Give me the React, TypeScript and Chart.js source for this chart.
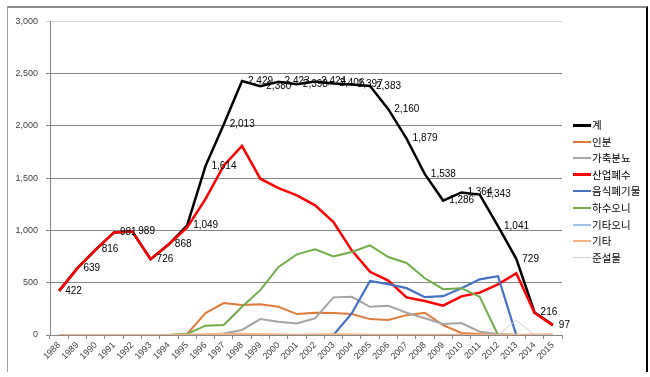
import React, { useEffect, useRef } from 'react';
import { Chart, registerables } from 'chart.js';

Chart.register(...registerables);

// ---- data ----
const years = ['1988', '1989', '1990', '1991', '1992', '1993', '1994', '1995', '1996', '1997', '1998', '1999', '2000', '2001', '2002', '2003', '2004', '2005', '2006', '2007', '2008', '2009', '2010', '2011', '2012', '2013', '2014', '2015'];
const total = [422, 639, 816, 981, 989, 726, 868, 1049, 1614, 2013, 2429, 2380, 2423, 2398, 2424, 2406, 2397, 2383, 2160, 1879, 1538, 1286, 1364, 1343, 1041, 729, 216, 97];
const humanWaste = [0, 0, 0, 0, 0, 0, 0, 10, 209, 305, 286, 295, 270, 200, 213, 210, 200, 152, 143, 190, 213, 95, 20, 10, 5, 0, 0, 0];
const livestock = [0, 0, 0, 0, 0, 0, 0, 0, 0, 15, 48, 152, 127, 111, 160, 360, 365, 270, 279, 213, 160, 105, 114, 32, 10, 0, 0, 0];
const industrial = [422, 639, 816, 981, 989, 726, 868, 1030, 1300, 1620, 1810, 1495, 1405, 1335, 1240, 1080, 810, 605, 520, 360, 325, 280, 370, 405, 485, 590, 212, 92];
const foodWaste = [0, 0, 0, 0, 0, 0, 0, 0, 0, 0, 0, 0, 0, 0, 0, 0, 206, 517, 486, 448, 362, 371, 448, 533, 562, 0, 0, 0];
const sewageSludge = [0, 0, 0, 0, 0, 0, 0, 10, 89, 95, 270, 429, 651, 771, 819, 752, 794, 857, 746, 689, 543, 438, 448, 365, 0, 0, 0, 0];
const otherSludge = [0, 0, 0, 0, 0, 0, 0, 0, 0, 6, 3, 0, 0, 0, 0, 0, 0, 0, 0, 0, 0, 0, 0, 0, 0, 0, 0, 0];
const others = [0, 0, 0, 0, 0, 0, 0, 2, 6, 10, 12, 8, 4, 3, 5, 6, 4, 3, 3, 3, 3, 2, 2, 2, 2, 2, 5, 6];
const dredged = [null, null, null, null, null, null, null, null, null, null, null, null, null, null, null, null, null, null, null, null, null, null, null, null, 0, 140, 0, 0];

const seriesNames = ['계', '인분', '가축분뇨', '산업폐수', '음식폐기물', '하수오니', '기타오니', '기타', '준설물'];
const seriesData = [total, humanWaste, livestock, industrial, foodWaste, sewageSludge, otherSludge, others, dredged];
const seriesColors = ['#000000', '#E07A38', '#A5A5A5', '#FF0000', '#4472C4', '#70AD47', '#9DC3E6', '#F4B183', '#CFCFCF'];
const seriesWidths = [2.5, 2, 2, 2.5, 2.25, 2, 1.5, 2, 1];

const yMin = 0;
const yMax = 3000;
const yStep = 500;

const FONT = '"Liberation Sans", Arial, sans-serif';

const totalLabelsPlugin = {
  id: 'totalLabels',
  afterDatasetsDraw(chart: any) {
    const meta = chart.getDatasetMeta(0);
    const ctx = chart.ctx;
    ctx.save();
    ctx.font = `10px ${FONT}`;
    ctx.fillStyle = '#000000';
    ctx.textAlign = 'left';
    ctx.textBaseline = 'middle';
    meta.data.forEach((pt: any, i: number) => {
      const v = total[i];
      ctx.fillText(v.toLocaleString('en-US'), pt.x + 6, pt.y);
    });
    ctx.restore();
  },
};

export default function App() {
  const canvasRef = useRef<HTMLCanvasElement | null>(null);

  useEffect(() => {
    if (!canvasRef.current) return;
    const n = seriesNames.length;
    const chart = new Chart(canvasRef.current, {
      type: 'line',
      data: {
        labels: years,
        datasets: seriesNames.map((name, i) => ({
          label: name,
          data: seriesData[i] as any,
          borderColor: seriesColors[i],
          backgroundColor: seriesColors[i],
          borderWidth: seriesWidths[i],
          pointRadius: 0,
          pointHoverRadius: 0,
          tension: 0,
          fill: false,
          spanGaps: false,
          order: n - i,
        })),
      },
      options: {
        animation: false,
        responsive: false,
        maintainAspectRatio: false,
        layout: { padding: { left: 0, top: 12, right: 83, bottom: 0 } },
        plugins: {
          legend: { display: false },
          tooltip: { enabled: false },
          title: { display: false },
        },
        scales: {
          x: {
            type: 'category',
            offset: true,
            grid: {
              display: true,
              drawOnChartArea: false,
              drawTicks: true,
              tickLength: 4,
              color: '#868686',
              offset: true,
            },
            border: { display: true, color: '#868686' },
            ticks: {
              autoSkip: false,
              maxRotation: 45,
              minRotation: 45,
              padding: 1,
              color: '#404040',
              font: { size: 9, family: FONT },
            },
            afterFit(scale: any) {
              scale.height = 37;
            },
          },
          y: {
            min: yMin,
            max: yMax,
            ticks: {
              stepSize: yStep,
              padding: 8,
              color: '#404040',
              font: { size: 9, family: FONT },
              callback: (v: any) => Number(v).toLocaleString('en-US'),
            },
            grid: {
              color: (c: any) => (c.tick && c.tick.value === yMax ? '#d9d9d9' : '#868686'),
              tickLength: 4,
            },
            border: { display: true, color: '#868686' },
            afterFit(scale: any) {
              scale.width = 42;
            },
          },
        },
      },
      plugins: [totalLabelsPlugin],
    });
    return () => chart.destroy();
  }, []);

  return (
    <div style={{ position: 'absolute', left: 0, top: 0, width: 650, height: 377, background: '#fff' }}>
      <div
        style={{
          position: 'absolute',
          left: 7,
          top: 6,
          width: 641,
          height: 366,
          boxSizing: 'border-box',
          borderTop: '2px solid #8a8a8a',
          borderLeft: '1px solid #a0a0a0',
          borderRight: '2px solid #000000',
        }}
      />
      <canvas
        ref={canvasRef}
        width={637}
        height={364}
        style={{ position: 'absolute', left: 8, top: 8, width: 637, height: 364 }}
      />
      {seriesNames.map((name, i) => (
        <div
          key={name}
          style={{
            position: 'absolute',
            left: 573,
            top: 125 + i * 16.6 - 7,
            height: 14,
            display: 'flex',
            alignItems: 'center',
            whiteSpace: 'nowrap',
          }}
        >
          <span
            style={{
              display: 'inline-block',
              width: 18,
              height: Math.max(1, Math.round(seriesWidths[i])),
              background: seriesColors[i],
            }}
          />
          <span
            style={{
              marginLeft: 1,
              fontFamily: '"Noto Sans CJK KR", sans-serif',
              fontSize: 10.5,
              lineHeight: '14px',
              color: '#000',
            }}
          >
            {name}
          </span>
        </div>
      ))}
    </div>
  );
}
